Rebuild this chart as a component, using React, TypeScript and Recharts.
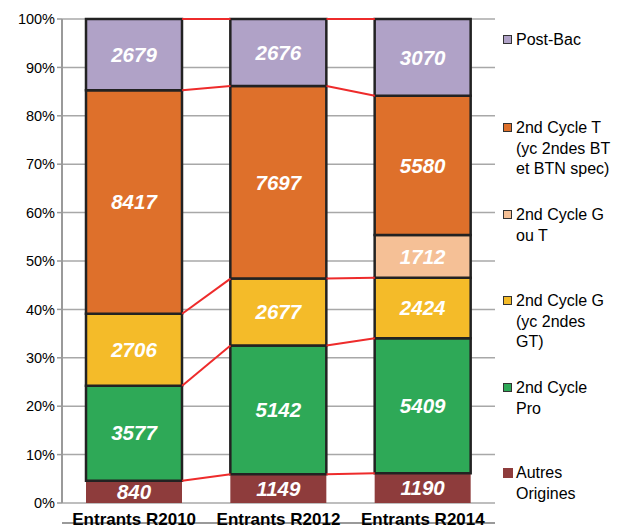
import React from 'react';
import {
  BarChart,
  Bar,
  XAxis,
  YAxis,
  CartesianGrid,
  LabelList,
  ReferenceLine,
} from 'recharts';

const categories = ['Entrants R2010', 'Entrants R2012', 'Entrants R2014'];
const autresOrigines = [840, 1149, 1190];
const cyclePro = [3577, 5142, 5409];
const cycleG = [2706, 2677, 2424];
const cycleGouT: (number | null)[] = [null, null, 1712];
const cycleT = [8417, 7697, 5580];
const postBac = [2679, 2676, 3070];
const yTicks = [0, 0.1, 0.2, 0.3, 0.4, 0.5, 0.6, 0.7, 0.8, 0.9, 1];

// bottom to top
const series = [
  { key: 'autres', values: autresOrigines, color: '#8e3c3c', border: false, legend: ['Autres', 'Origines'] },
  { key: 'pro', values: cyclePro, color: '#2ea957', border: true, legend: ['2nd Cycle', 'Pro'] },
  { key: 'g', values: cycleG, color: '#f4bb29', border: true, legend: ['2nd Cycle G', '(yc 2ndes', 'GT)'] },
  { key: 'gout', values: cycleGouT, color: '#f5c096', border: true, legend: ['2nd Cycle G', 'ou T'] },
  { key: 't', values: cycleT, color: '#de702b', border: true, legend: ['2nd Cycle T', '(yc 2ndes BT', 'et BTN spec)'] },
  { key: 'post', values: postBac, color: '#b0a2c7', border: true, legend: ['Post-Bac'] },
];

const W = 617;
const H = 530;
const MARGIN = { top: 19, right: 122, left: 0, bottom: 0 };
const Y_WIDTH = 62;
const BAR_SIZE = 96;
const PLOT_W = W - MARGIN.right - Y_WIDTH;
const HALF_BAR = BAR_SIZE / 2 / (PLOT_W / categories.length);

const data = categories.map((name, i) => {
  const row: Record<string, string | number> = { name, pos: i + 0.5 };
  series.forEach((s) => {
    row[s.key] = s.values[i] ?? 0;
  });
  return row;
});

const totals = categories.map((_, i) =>
  series.reduce((acc, s) => acc + (s.values[i] ?? 0), 0)
);

// cumulative top of each series per category (0..1)
const tops = series.map((_, si) =>
  categories.map((__, i) => {
    let sum = 0;
    for (let k = 0; k <= si; k++) sum += series[k].values[i] ?? 0;
    return sum / totals[i];
  })
);

const connectors: { x1: number; y1: number; x2: number; y2: number }[] = [];
series.forEach((s, si) => {
  for (let i = 0; i < categories.length - 1; i++) {
    if (s.values[i] == null || s.values[i + 1] == null) continue;
    connectors.push({
      x1: i + 0.5 + HALF_BAR,
      y1: tops[si][i],
      x2: i + 1.5 - HALF_BAR,
      y2: tops[si][i + 1],
    });
  }
});

const legendTops = [473, 388, 301, 215, 128, 40];

const App = () => {
  return (
    <div
      style={{
        position: 'absolute',
        left: 0,
        top: 0,
        width: W,
        height: H,
        background: '#fff',
        fontFamily: '"Liberation Sans", Arial, sans-serif',
      }}
    >
      <BarChart width={W} height={H} data={data} margin={MARGIN} stackOffset="expand">
        <CartesianGrid vertical={false} stroke="#a8a8a8" strokeWidth={1.5} />
        <XAxis
          xAxisId="num"
          dataKey="pos"
          type="number"
          domain={[0, categories.length]}
          allowDataOverflow
          ticks={[0, 1, 2, 3]}
          tick={false}
          tickSize={6}
          height={7}
          axisLine={{ stroke: '#9a9a9a', strokeWidth: 2 }}
          tickLine={{ stroke: '#9a9a9a', strokeWidth: 1.5 }}
        />
        <XAxis
          dataKey="name"
          axisLine={false}
          tickLine={false}
          height={20}
          interval={0}
          tickMargin={4}
          tick={{ fontSize: 17, fontWeight: 'bold', fill: '#000' }}
        />
        <YAxis
          width={Y_WIDTH}
          domain={[0, 1]}
          ticks={yTicks}
          tickFormatter={(v: number) => `${Math.round(v * 100)}%`}
          axisLine={{ stroke: '#9a9a9a', strokeWidth: 2 }}
          tickLine={{ stroke: '#9a9a9a', strokeWidth: 1.5 }}
          tickSize={5}
          tick={{ fontSize: 14.5, fill: '#000' }}
        />
        {connectors.map((c, i) => (
          <ReferenceLine
            key={i}
            xAxisId="num"
            segment={[
              { x: c.x1, y: c.y1 },
              { x: c.x2, y: c.y2 },
            ]}
            stroke="#ee2b2b"
            strokeWidth={2}
          />
        ))}
        {series.map((s) => (
          <Bar
            key={s.key}
            dataKey={s.key}
            stackId="a"
            fill={s.color}
            stroke={s.border ? '#222' : 'none'}
            strokeWidth={s.border ? 2.5 : 0}
            barSize={BAR_SIZE}
            isAnimationActive={false}
          >
            <LabelList
              dataKey={s.key}
              position="center"
              fill="#fff"
              fontSize={20.5}
              fontWeight="bold"
              fontStyle="italic"
              formatter={(v: number) => (v ? v : '')}
            />
          </Bar>
        ))}
      </BarChart>
      {series.map((s, i) => (
        <div
          key={s.key}
          style={{ position: 'absolute', left: 503, top: legendTops[i] - 10, fontSize: 16, lineHeight: '20.5px', color: '#000' }}
        >
          <div
            style={{
              position: 'absolute',
              left: 0,
              top: 5,
              width: s.border ? 7 : 10,
              height: s.border ? 7 : 10,
              background: s.color,
              border: s.border ? '1.5px solid #333' : 'none',
            }}
          />
          <div style={{ marginLeft: 13, whiteSpace: 'nowrap' }}>
            {s.legend.map((l, j) => (
              <div key={j}>{l}</div>
            ))}
          </div>
        </div>
      ))}
    </div>
  );
};

export default App;
